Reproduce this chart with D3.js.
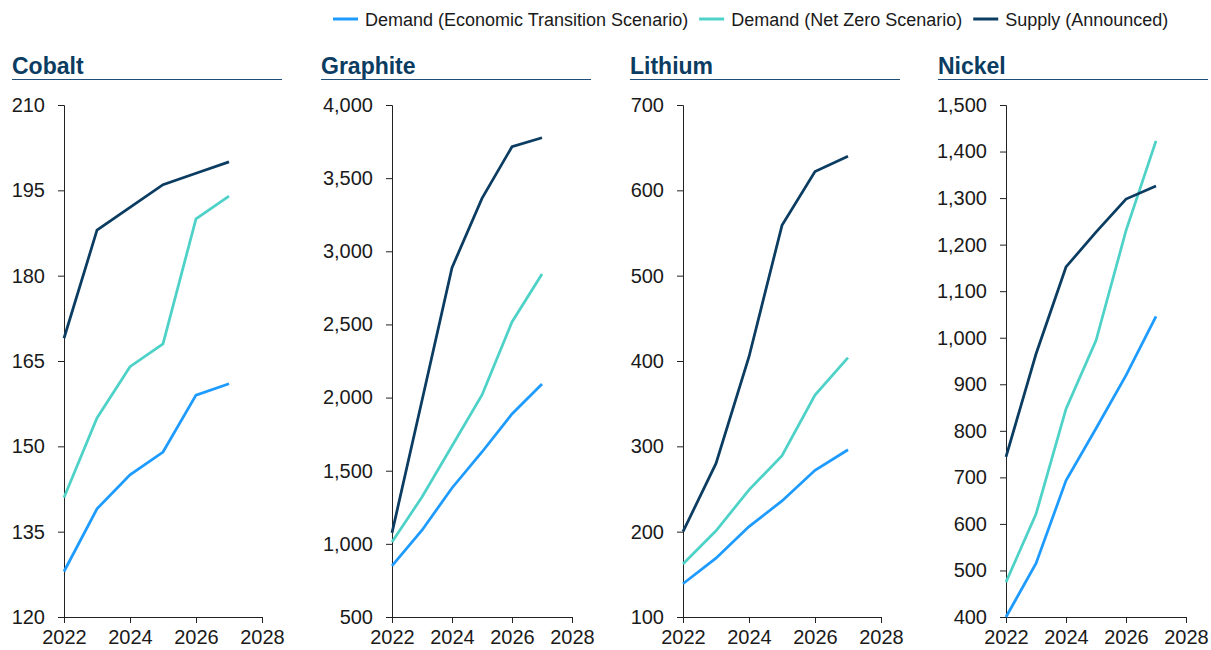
<!DOCTYPE html>
<html>
<head>
<meta charset="utf-8">
<script src="https://cdn.jsdelivr.net/npm/d3@7"></script>
<style>
  html, body { margin: 0; padding: 0; background: #fff; }
  svg { display: block; font-family: "Liberation Sans", Arial, sans-serif; }
</style>
</head>
<body>
<svg id="chart" width="1211" height="650"></svg>
<script>
// ---- DATA ----
const years = [2022, 2023, 2024, 2025, 2026, 2027];
const seriesNames = ["Demand (Economic Transition Scenario)", "Demand (Net Zero Scenario)", "Supply (Announced)"];
const minerals = ["Cobalt", "Graphite", "Lithium", "Nickel"];

const cobaltETS    = [128, 139, 145, 149, 159, 161];
const cobaltNZ     = [141, 155, 164, 168, 190, 194];
const cobaltSupply = [169, 188, 192, 196, 198, 200];

const graphiteETS    = [850, 1093, 1382, 1628, 1888, 2093];
const graphiteNZ     = [1013, 1320, 1669, 2018, 2517, 2845];
const graphiteSupply = [1075, 1980, 2888, 3362, 3715, 3776];

const lithiumETS    = [139, 169, 206, 236, 272, 296];
const lithiumNZ     = [162, 201, 249, 289, 360, 404];
const lithiumSupply = [200, 280, 405, 559, 622, 640];

const nickelETS    = [400, 515, 693, 805, 919, 1046];
const nickelNZ     = [475, 621, 847, 994, 1230, 1423];
const nickelSupply = [744, 965, 1152, 1227, 1298, 1326];

const yTicksCobalt   = [120, 135, 150, 165, 180, 195, 210];
const yTicksGraphite = [500, 1000, 1500, 2000, 2500, 3000, 3500, 4000];
const yTicksLithium  = [100, 200, 300, 400, 500, 600, 700];
const yTicksNickel   = [400, 500, 600, 700, 800, 900, 1000, 1100, 1200, 1300, 1400, 1500];
const xTicks = [2022, 2024, 2026, 2028];

// ---- STYLE / LAYOUT ----
const colors = ["#1E9BFF", "#4ED2C8", "#0B3C61"];
const titleColor = "#0B3C61";
const panelX   = [12, 321, 630, 938];     // title left
const axisX    = [64, 392, 683, 1006];    // y-axis position
const rightX   = [262, 572, 881, 1186];   // x = 2028
const plotTop = 105, plotBottom = 617;

const panels = [
  { name: minerals[0], series: [cobaltETS, cobaltNZ, cobaltSupply], ticks: yTicksCobalt },
  { name: minerals[1], series: [graphiteETS, graphiteNZ, graphiteSupply], ticks: yTicksGraphite },
  { name: minerals[2], series: [lithiumETS, lithiumNZ, lithiumSupply], ticks: yTicksLithium },
  { name: minerals[3], series: [nickelETS, nickelNZ, nickelSupply], ticks: yTicksNickel }
];

const svg = d3.select("#chart");
const fmt = d3.format(",");

panels.forEach((p, i) => {
  const g = svg.append("g");
  g.append("text")
    .attr("x", panelX[i]).attr("y", 74)
    .attr("font-size", 23).attr("font-weight", "bold")
    .attr("fill", titleColor)
    .text(p.name);
  g.append("line")
    .attr("x1", panelX[i]).attr("x2", panelX[i] + 270)
    .attr("y1", 79.5).attr("y2", 79.5)
    .attr("stroke", "#1F4E79").attr("stroke-width", 1);

  const x = d3.scaleLinear().domain([2022, 2028]).range([axisX[i], rightX[i]]);
  const y = d3.scaleLinear().domain(d3.extent(p.ticks)).range([plotBottom, plotTop]);

  const yAxis = g.append("g")
    .attr("transform", `translate(${axisX[i]},0)`)
    .call(d3.axisLeft(y).tickValues(p.ticks).tickFormat(fmt).tickSize(6).tickPadding(13));
  const xAxis = g.append("g")
    .attr("transform", `translate(0,${plotBottom})`)
    .call(d3.axisBottom(x).tickValues(xTicks).tickFormat(d3.format("d")).tickSize(6).tickPadding(7));
  [yAxis, xAxis].forEach(a => {
    a.selectAll("path, line").attr("stroke", "#222").attr("stroke-width", 1);
    a.selectAll("text").attr("font-size", 20).attr("fill", "#1a1a1a")
      .attr("font-family", "'Liberation Sans', Arial, sans-serif");
  });

  const line = d3.line().x((d, k) => x(years[k])).y(d => y(d));
  p.series.forEach((s, k) => {
    g.append("path")
      .datum(s)
      .attr("d", line)
      .attr("fill", "none")
      .attr("stroke", colors[k])
      .attr("stroke-width", 2.75)
      .attr("stroke-linejoin", "miter");
  });
});

// ---- LEGEND ----
const legend = svg.append("g");
let lx = 333;
seriesNames.forEach((name, k) => {
  legend.append("line")
    .attr("x1", lx).attr("x2", lx + 25)
    .attr("y1", 19).attr("y2", 19)
    .attr("stroke", colors[k]).attr("stroke-width", 3);
  const t = legend.append("text")
    .attr("x", lx + 32).attr("y", 25.5)
    .attr("font-size", 18).attr("fill", "#1a1a1a")
    .text(name);
  lx = lx + 32 + t.node().getComputedTextLength() + 11;
});
</script>
</body>
</html>
